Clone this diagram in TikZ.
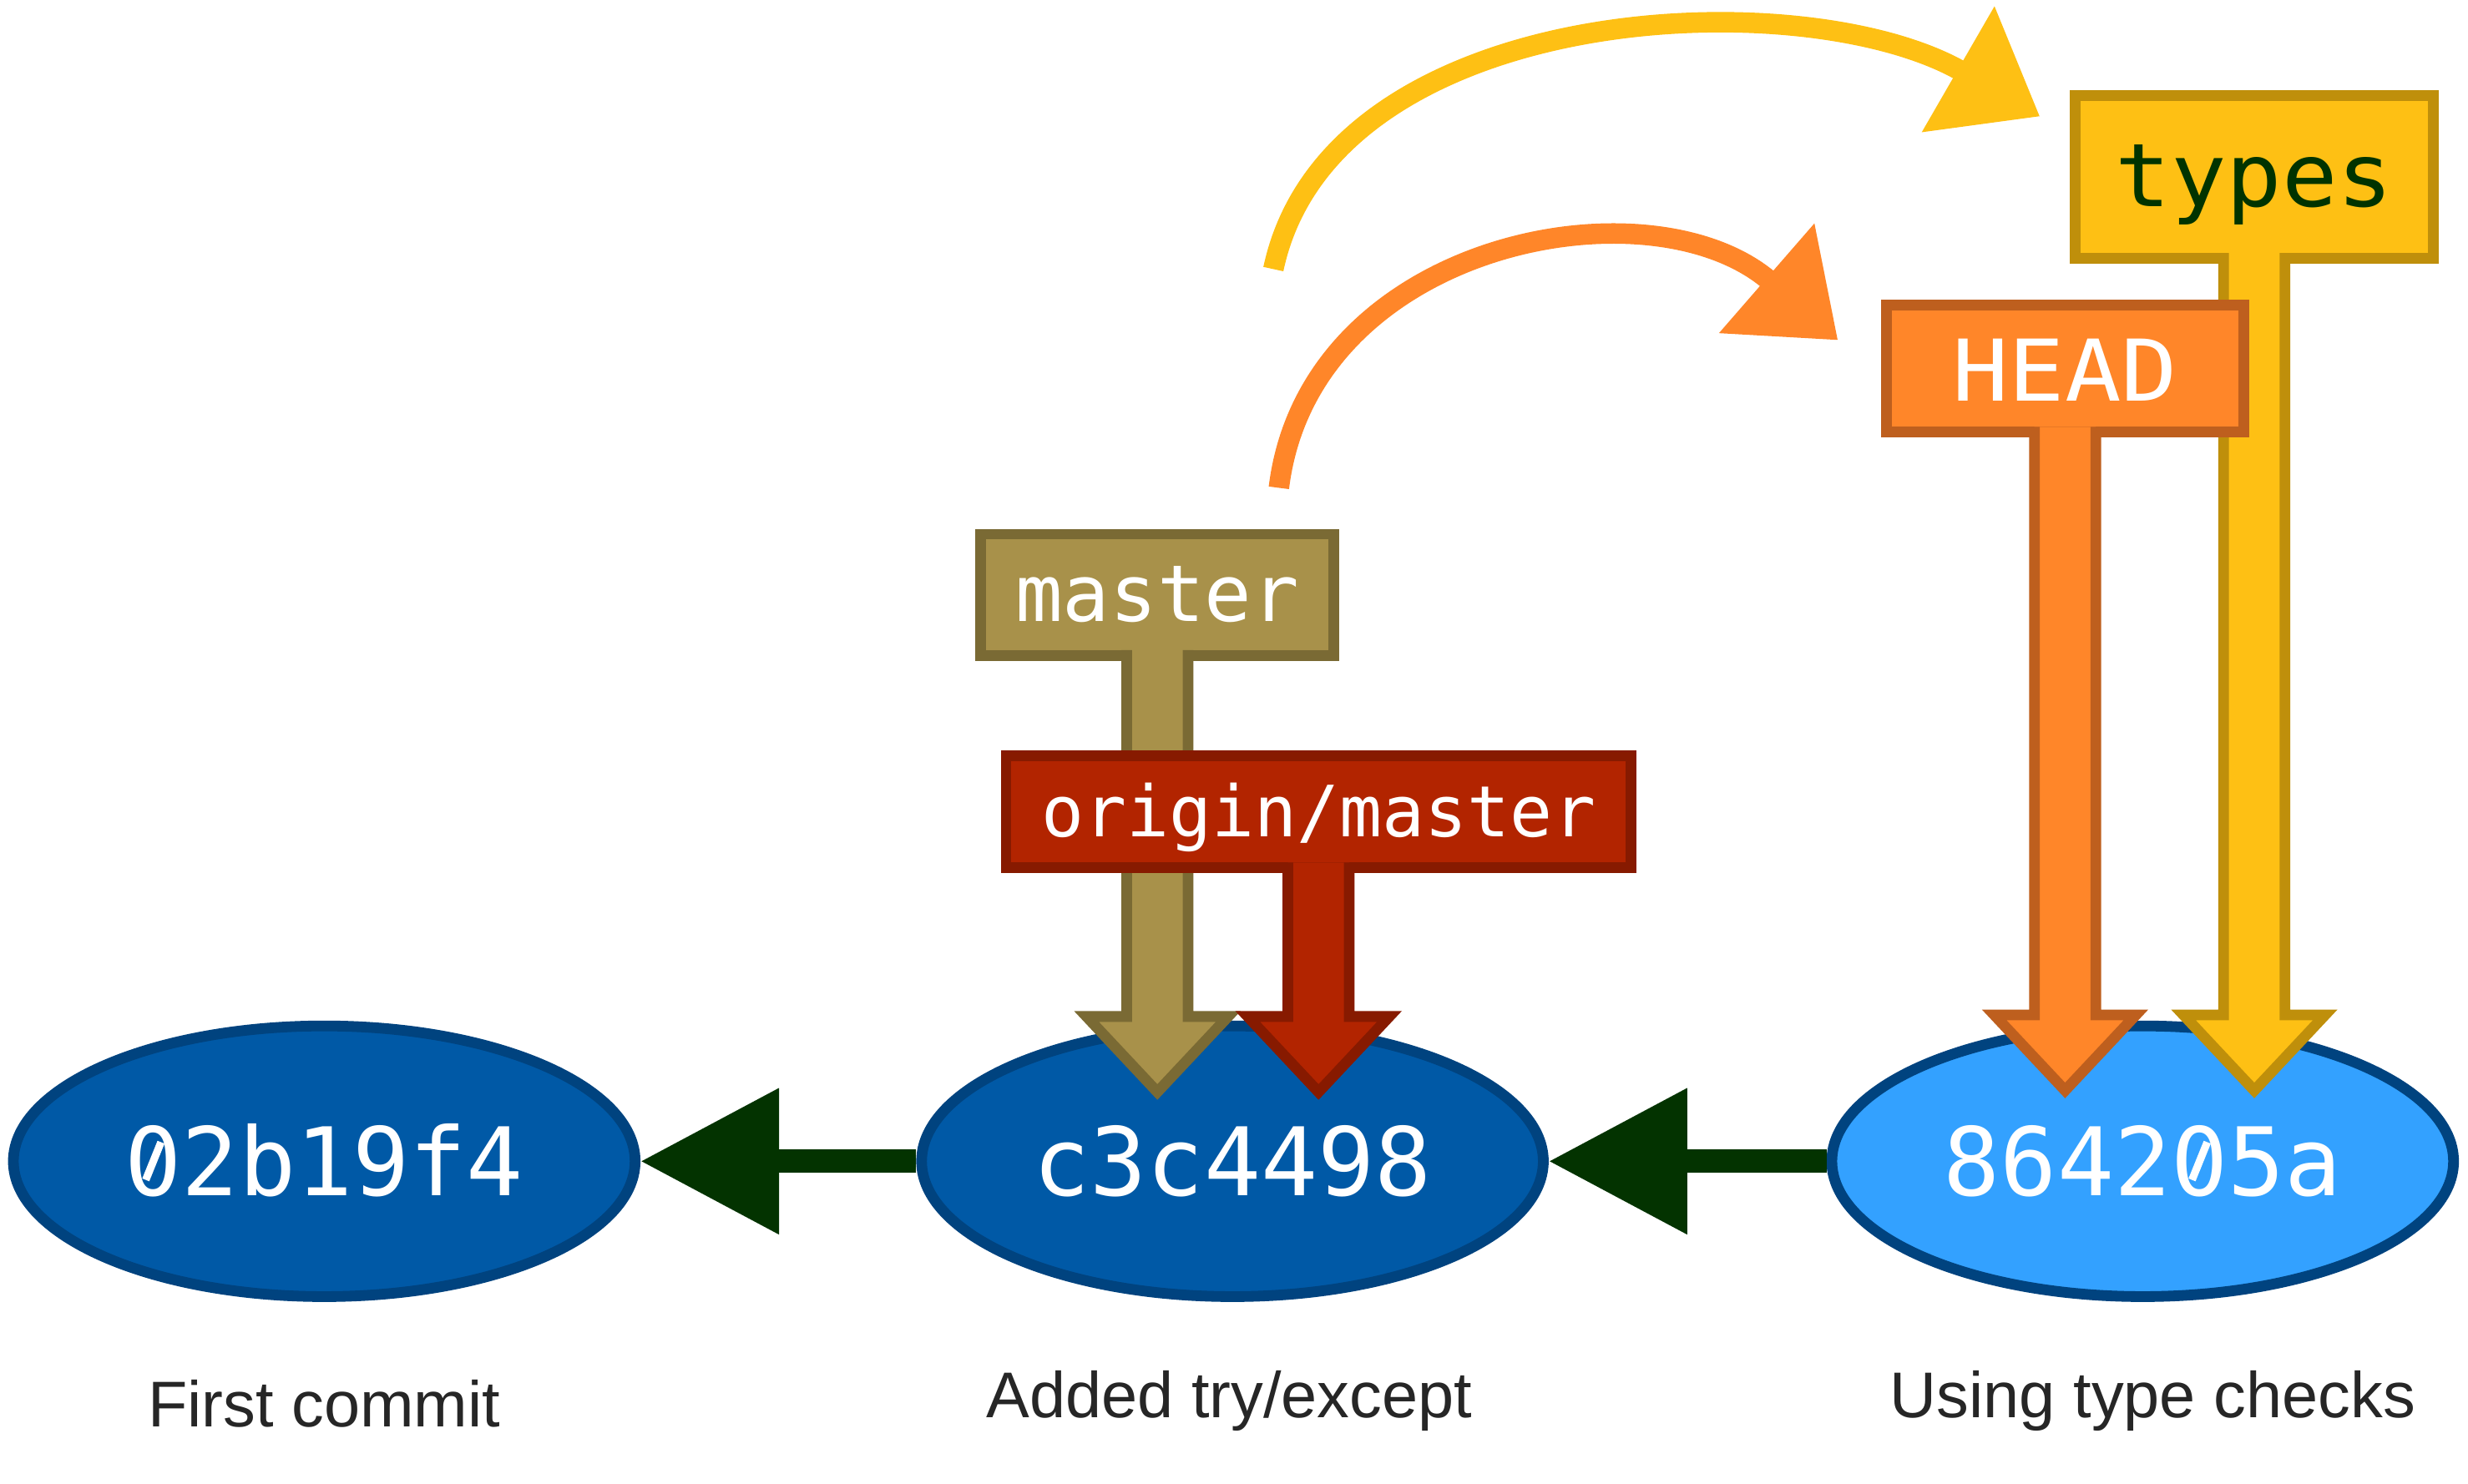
\documentclass[tikz,border=0pt]{standalone}
\usepackage{fontspec}
\setmainfont{Liberation Sans}
\setmonofont{DejaVu Sans Mono}
\newfontfamily\widemono[FakeStretch=1.1]{DejaVu Sans Mono}
\newfontfamily\typesmono[FakeStretch=1.05]{DejaVu Sans Mono}
\usetikzlibrary{arrows.meta,shapes.geometric}
\definecolor{commitfill}{HTML}{0059A6}
\definecolor{commitline}{HTML}{00437F}
\definecolor{newfill}{HTML}{33A1FF}
\definecolor{parentline}{HTML}{033300}
\definecolor{masterfill}{HTML}{A8914A}
\definecolor{masterline}{HTML}{7A6A34}
\definecolor{originfill}{HTML}{B22400}
\definecolor{originline}{HTML}{871A00}
\definecolor{headfill}{HTML}{FF8629}
\definecolor{headline}{HTML}{BE5F1E}
\definecolor{typesfill}{HTML}{FEC014}
\definecolor{typesline}{HTML}{BF8F0B}
\definecolor{typestext}{HTML}{003300}
\definecolor{msgtext}{HTML}{262626}
\newcommand{\nought}[1]{\ooalign{0\cr\hidewidth\raisebox{.21em}{\textcolor{#1}{\rule{.2em}{.31em}}}\hidewidth\cr\hidewidth\raisebox{.15em}{\rotatebox[origin=c]{-22}{\rule{.08em}{.43em}}}\hidewidth\cr}}
\begin{document}
\begin{tikzpicture}[
  commit/.style={draw=commitline, fill=commitfill, ellipse, line width=0.68mm,
    minimum width=3.95cm, minimum height=1.72cm, inner sep=0pt, text=white,
    font=\ttfamily\fontsize{17.1}{20}\selectfont, text height=12.4pt, text depth=0pt},
  parent/.style={draw=parentline, line width=1.48mm, -{Triangle[length=8.8mm,width=8.9mm]}},
  label/.style={rectangle, line width=0.68mm, inner sep=0pt, outer sep=0pt, text=white, text depth=0pt},
  move/.style={line width=1.3mm, -{Triangle[length=6mm,width=8.9mm]}},
  msg/.style={text=msgtext, font=\fontsize{11.7}{14}\selectfont, anchor=base}
]
\useasboundingbox (0,0) rectangle (15.68,-9.43);
\node[commit] (1) at (2.06,-7.38) {\nought{commitfill}2b19f4};
\node[commit] (2) at (7.83,-7.38) {c3c4498};
\node[commit, fill=newfill] (3) at (13.613,-7.38) {8642\nought{newfill}5a};
\draw[parent] (2) -- (1);
\draw[parent] (3) -- (2);
\node[msg] (1m) at (2.06,-9.067) {First commit};
\node[msg] (2m) at (7.81,-9.01) {Added try/except};
\node[msg] (3m) at (13.677,-9.011) {Using type checks};
\coordinate (ys) at (8.09,-1.71);
\coordinate (ye) at (12.96,-0.74);
\coordinate (hs) at (8.125,-3.10);
\coordinate (he) at (11.677,-2.162);
\draw[move, draw=typesfill] (ys) to[out=78, in=150, looseness=0.9] (ye);
\draw[move, draw=headfill] (hs) to[out=83, in=139, looseness=1.1] (he);
\coordinate (t4) at (7.353,-6.94);
\coordinate (t5) at (8.377,-6.94);
\coordinate (t6) at (13.12,-6.93);
\coordinate (t7) at (14.322,-6.93);
\node[label, draw=typesline, fill=typesfill, text=typestext, minimum width=2.276cm, minimum height=1.035cm,
  font=\typesmono\fontsize{15.9}{18}\selectfont, text height=10.7pt] (7) at (14.322,-1.124) {types};
\path[draw=typesline, fill=typesfill, line width=0.68mm] ([xshift=-1.95mm,yshift=.34mm]7.south) -- ([xshift=-1.95mm,yshift=4.8mm]t7) -- ([xshift=-4.5mm,yshift=4.8mm]t7) -- (t7) -- ([xshift=4.5mm,yshift=4.8mm]t7) -- ([xshift=1.95mm,yshift=4.8mm]t7) -- ([xshift=1.95mm,yshift=.34mm]7.south);
\node[label, draw=headline, fill=headfill, minimum width=2.27cm, minimum height=0.81cm,
  font=\widemono\fontsize{15.4}{18}\selectfont, text height=11.8pt] (6) at (13.12,-2.342) {HEAD};
\path[draw=headline, fill=headfill, line width=0.68mm] ([xshift=-1.95mm,yshift=.34mm]6.south) -- ([xshift=-1.95mm,yshift=4.8mm]t6) -- ([xshift=-4.5mm,yshift=4.8mm]t6) -- (t6) -- ([xshift=4.5mm,yshift=4.8mm]t6) -- ([xshift=1.95mm,yshift=4.8mm]t6) -- ([xshift=1.95mm,yshift=.34mm]6.south);
\node[label, draw=masterline, fill=masterfill, minimum width=2.245cm, minimum height=0.77cm,
  font=\ttfamily\fontsize{14.2}{17}\selectfont, text height=9.7pt] (4) at (7.353,-3.78) {master};
\path[draw=masterline, fill=masterfill, line width=0.68mm] ([xshift=-1.95mm,yshift=.34mm]4.south) -- ([xshift=-1.95mm,yshift=4.8mm]t4) -- ([xshift=-4.5mm,yshift=4.8mm]t4) -- (t4) -- ([xshift=4.5mm,yshift=4.8mm]t4) -- ([xshift=1.95mm,yshift=4.8mm]t4) -- ([xshift=1.95mm,yshift=.34mm]4.south);
\node[label, draw=originline, fill=originfill, minimum width=3.97cm, minimum height=0.71cm,
  font=\ttfamily\fontsize{12.8}{15}\selectfont, text height=9.1pt] (5) at (8.377,-5.16) {origin/master};
\path[draw=originline, fill=originfill, line width=0.68mm] ([xshift=-1.95mm,yshift=.34mm]5.south) -- ([xshift=-1.95mm,yshift=4.8mm]t5) -- ([xshift=-4.5mm,yshift=4.8mm]t5) -- (t5) -- ([xshift=4.5mm,yshift=4.8mm]t5) -- ([xshift=1.95mm,yshift=4.8mm]t5) -- ([xshift=1.95mm,yshift=.34mm]5.south);
\end{tikzpicture}
\end{document}
